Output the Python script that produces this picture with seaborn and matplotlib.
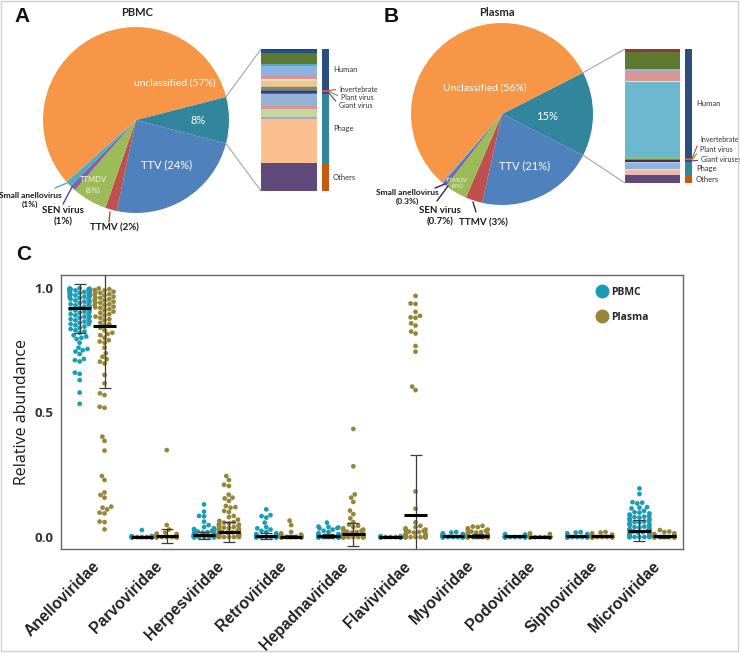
"""
Virome composition figure: pies + stacked bars (A, B) and swarm (C).
"""
import warnings
import numpy as np
import pandas as pd
import matplotlib
matplotlib.use("Agg")
import matplotlib.pyplot as plt
import matplotlib.transforms as mtrans
import seaborn as sns
from matplotlib.lines import Line2D
from matplotlib.patches import ConnectionPatch, Rectangle

warnings.filterwarnings("ignore")

# ---------------- panel A / B : pies ----------------
pie_names = ["teal", "TTV", "TTMV", "TTMDV", "SEN virus", "Small anellovirus", "unclassified"]
pie_pbmc = [8, 24, 2, 6, 1, 1, 57]
pie_plasma = [15, 21, 3, 4, 0.7, 0.3, 56]
pie_colors = ["#31859c", "#4f81bd", "#c0504d", "#9bbb59", "#8064a2", "#4bacc6", "#f79646"]

# stacked detail bars (share of the teal slice, top to bottom)
detail_pbmc = [1.4, 0.9, 0.7, 7.5, 1.4, 6.3, 2.8, 1.2, 3.5, 0.9,
               2.1, 0.7, 1.2, 0.9, 7.7, 3.1, 5.6, 1.2, 31.2, 19.5]
detail_pbmc_colors = ["#1f497d", "#953735", "#1f497d", "#5e7a30", "#4bacc6",
                      "#8db3e2", "#da9694", "#d7e4bd", "#fac090", "#c4bd97",
                      "#77933c", "#8064a2", "#1f497d", "#31859c", "#95b3d7",
                      "#da9694", "#c3d69b", "#b3a2c7", "#fac090", "#604a7b"]
detail_plasma = [2.0, 13.2, 1.2, 7.2, 0.7, 56.3, 1.2, 1.0, 1.0, 1.2,
                 4.2, 1.2, 1.2, 2.2, 6.0]
detail_plasma_colors = ["#953735", "#5e7a30", "#8db3e2", "#da9694", "#f2dcdb",
                        "#6cb8cf", "#9bbb59", "#77933c", "#403152", "#b9cde5",
                        "#8db3e2", "#fcd5b5", "#fac090", "#e6b9b8", "#604a7b"]

group_labels_pbmc = ["Human", "Invertebrate", "Plant virus", "Giant virus", "Phage", "Others"]
group_labels_plasma = ["Human", "Invertebrate", "Plant virus", "Giant viruses", "Phage", "Others"]
group_pbmc = [28.9, 0.7, 0.7, 1.4, 48.8, 19.5]
group_plasma = [81.4, 0.7, 0.7, 1.5, 10.2, 5.5]
group_colors = ["#2a4f7f", "#c0504d", "#77933c", "#5f3a7a", "#31859c", "#c55a11"]

# ---------------- panel C : relative abundance ----------------
families = ["Anelloviridae", "Parvoviridae", "Herpesviridae", "Retroviridae",
            "Hepadnaviridae", "Flaviviridae", "Myoviridae", "Podoviridae",
            "Siphoviridae", "Microviridae"]
sources = ["PBMC", "Plasma"]

anello_pbmc = [0.535, 0.58, 0.63, 0.655, 0.66, 0.705, 0.71, 0.715, 0.735, 0.745,
               0.75, 0.755, 0.76, 0.78, 0.795, 0.80, 0.805, 0.81, 0.82, 0.825,
               0.83, 0.835, 0.84, 0.845, 0.85, 0.855, 0.86, 0.865, 0.87, 0.875,
               0.88, 0.885, 0.89, 0.895, 0.90, 0.905, 0.91, 0.915, 0.92, 0.925,
               0.93, 0.935, 0.94, 0.945, 0.95, 0.955, 0.96, 0.962, 0.965, 0.968,
               0.97, 0.972, 0.975, 0.978, 0.98, 0.982, 0.984, 0.986, 0.988, 0.99,
               0.991, 0.992, 0.993, 0.994, 0.995, 0.996, 0.997, 0.998, 0.999, 0.99,
               0.985, 0.975, 0.965, 0.955, 0.945, 0.935, 0.925, 0.915, 0.905, 0.895,
               0.885, 0.875, 0.865, 0.855]
anello_plasma = [0.031, 0.06, 0.062, 0.095, 0.098, 0.111, 0.118, 0.122, 0.158, 0.169,
                 0.179, 0.229, 0.245, 0.347, 0.386, 0.403, 0.519, 0.523, 0.57, 0.577,
                 0.617, 0.651, 0.697, 0.704, 0.714, 0.724, 0.738, 0.76, 0.78, 0.785,
                 0.79, 0.80, 0.81, 0.815, 0.82, 0.83, 0.84, 0.85, 0.855, 0.86,
                 0.87, 0.875, 0.88, 0.89, 0.895, 0.90, 0.91, 0.915, 0.92, 0.925,
                 0.93, 0.935, 0.94, 0.945, 0.95, 0.955, 0.96, 0.965, 0.97, 0.975,
                 0.98, 0.985, 0.99, 0.995, 0.998, 0.992, 0.982, 0.972, 0.962, 0.952,
                 0.942, 0.932, 0.922, 0.905, 0.885]
parvo_pbmc = [0.028, 0.004, 0.003, 0.003, 0.002, 0.002, 0.002, 0.001, 0.001, 0.001,
              0.001, 0.001, 0.001, 0.001, 0, 0, 0, 0, 0, 0,
              0, 0, 0, 0, 0, 0, 0, 0, 0, 0,
              0, 0, 0, 0, 0, 0, 0, 0, 0, 0]
parvo_plasma = [0.349, 0.048, 0.03, 0.018, 0.014, 0.012, 0.01, 0.008, 0.006, 0.005,
                0.004, 0.003, 0.003, 0.002, 0.002, 0.001, 0.001, 0.001, 0, 0,
                0, 0, 0, 0, 0, 0, 0, 0, 0, 0,
                0, 0, 0, 0, 0, 0, 0, 0, 0, 0]
herpes_pbmc = [0.131, 0.102, 0.085, 0.083, 0.062, 0.048, 0.04, 0.035, 0.032, 0.03,
               0.028, 0.025, 0.022, 0.02, 0.018, 0.016, 0.015, 0.013, 0.012, 0.01,
               0.01, 0.009, 0.008, 0.007, 0.006, 0.005, 0.005, 0.004, 0.004, 0.003,
               0.003, 0.002, 0.002, 0.001, 0.001, 0, 0, 0, 0, 0,
               0, 0, 0, 0, 0, 0, 0, 0]
herpes_plasma = [0.245, 0.229, 0.21, 0.205, 0.17, 0.158, 0.155, 0.145, 0.125, 0.12,
                 0.118, 0.105, 0.1, 0.085, 0.08, 0.07, 0.065, 0.06, 0.058, 0.055,
                 0.052, 0.05, 0.048, 0.045, 0.043, 0.04, 0.038, 0.036, 0.034, 0.032,
                 0.03, 0.028, 0.026, 0.025, 0.023, 0.022, 0.02, 0.019, 0.018, 0.016,
                 0.015, 0.014, 0.013, 0.012, 0.011, 0.01, 0.009, 0.008, 0.007, 0.006,
                 0.005, 0.004, 0.003, 0.002, 0.001, 0, 0, 0, 0, 0]
retro_pbmc = [0.111, 0.088, 0.084, 0.078, 0.058, 0.04, 0.035, 0.03, 0.025, 0.02,
              0.015, 0.012, 0.01, 0.008, 0.006, 0.005, 0.004, 0.003, 0.002, 0.002,
              0.001, 0.001, 0, 0, 0, 0, 0, 0, 0, 0,
              0, 0, 0, 0, 0, 0, 0, 0, 0, 0]
retro_plasma = [0.066, 0.048, 0.02, 0.015, 0.01, 0.008, 0.005, 0.004, 0.003, 0.002,
                0.001, 0.001, 0, 0, 0, 0, 0, 0, 0, 0,
                0, 0, 0, 0, 0, 0, 0, 0, 0, 0,
                0, 0, 0, 0, 0, 0, 0, 0, 0, 0]
hepad_pbmc = [0.058, 0.042, 0.04, 0.038, 0.036, 0.035, 0.03, 0.025, 0.02, 0.015,
              0.012, 0.01, 0.008, 0.006, 0.005, 0.004, 0.003, 0.002, 0.001, 0.001,
              0, 0, 0, 0, 0, 0, 0, 0, 0, 0,
              0, 0, 0, 0, 0, 0, 0, 0, 0, 0]
hepad_plasma = [0.434, 0.284, 0.171, 0.158, 0.141, 0.106, 0.092, 0.075, 0.06, 0.05,
                0.045, 0.04, 0.035, 0.03, 0.028, 0.025, 0.022, 0.02, 0.018, 0.015,
                0.012, 0.01, 0.008, 0.006, 0.005, 0.004, 0.003, 0.002, 0.001, 0.001,
                0, 0, 0, 0, 0, 0, 0, 0, 0, 0,
                0, 0, 0, 0, 0]
flavi_pbmc = [0.003, 0.002, 0.001, 0.001, 0, 0, 0, 0, 0, 0,
              0, 0, 0, 0, 0, 0, 0, 0, 0, 0,
              0, 0, 0, 0, 0, 0, 0, 0, 0, 0]
flavi_plasma = [0.968, 0.938, 0.936, 0.904, 0.888, 0.882, 0.880, 0.858, 0.849, 0.825,
                0.817, 0.767, 0.744, 0.604, 0.590, 0.183, 0.114, 0.059, 0.045, 0.04,
                0.035, 0.03, 0.028, 0.025, 0.022, 0.02, 0.018, 0.015, 0.012, 0.01,
                0.008, 0.006, 0.005, 0.004, 0.003, 0.002, 0.001, 0, 0, 0,
                0, 0, 0, 0, 0, 0, 0, 0, 0, 0]
myo_pbmc = [0.02, 0.018, 0.015, 0.012, 0.01, 0.01, 0.008, 0.008, 0.007, 0.006,
            0.006, 0.005, 0.005, 0.004, 0.004, 0.003, 0.003, 0.002, 0.002, 0.001,
            0.001, 0, 0, 0, 0, 0, 0, 0, 0, 0,
            0, 0, 0, 0, 0, 0, 0, 0, 0, 0]
myo_plasma = [0.045, 0.042, 0.04, 0.035, 0.03, 0.028, 0.025, 0.022, 0.02, 0.018,
              0.015, 0.012, 0.01, 0.008, 0.006, 0.005, 0.004, 0.003, 0.002, 0.001,
              0, 0, 0, 0, 0, 0, 0, 0, 0, 0,
              0, 0, 0, 0, 0, 0, 0, 0, 0, 0]
podo_pbmc = [0.012, 0.01, 0.008, 0.006, 0.005, 0.004, 0.003, 0.002, 0.001, 0.001,
             0, 0, 0, 0, 0, 0, 0, 0, 0, 0,
             0, 0, 0, 0, 0, 0, 0, 0, 0, 0]
podo_plasma = [0.015, 0.012, 0.01, 0.005, 0.003, 0.002, 0.001, 0, 0, 0,
               0, 0, 0, 0, 0, 0, 0, 0, 0, 0,
               0, 0, 0, 0, 0, 0, 0, 0, 0, 0]
sipho_pbmc = [0.02, 0.018, 0.015, 0.012, 0.01, 0.008, 0.006, 0.005, 0.004, 0.003,
              0.002, 0.001, 0, 0, 0, 0, 0, 0, 0, 0,
              0, 0, 0, 0, 0, 0, 0, 0, 0, 0]
sipho_plasma = [0.02, 0.018, 0.015, 0.01, 0.008, 0.005, 0.003, 0.002, 0.001, 0,
                0, 0, 0, 0, 0, 0, 0, 0, 0, 0,
                0, 0, 0, 0, 0, 0, 0, 0, 0, 0]
micro_pbmc = [0.195, 0.173, 0.14, 0.138, 0.135, 0.12, 0.118, 0.115, 0.105, 0.1,
              0.098, 0.095, 0.09, 0.088, 0.085, 0.082, 0.08, 0.078, 0.075, 0.072,
              0.07, 0.068, 0.065, 0.062, 0.06, 0.058, 0.055, 0.052, 0.05, 0.048,
              0.045, 0.042, 0.04, 0.038, 0.035, 0.032, 0.03, 0.028, 0.025, 0.022,
              0.02, 0.018, 0.015, 0.012, 0.01, 0.008, 0.006, 0.005, 0.004, 0.003,
              0.002, 0.001, 0, 0, 0, 0, 0, 0]
micro_plasma = [0.028, 0.022, 0.02, 0.015, 0.012, 0.01, 0.008, 0.005, 0.003, 0.002,
                0.001, 0, 0, 0, 0, 0, 0, 0, 0, 0,
                0, 0, 0, 0, 0, 0, 0, 0, 0, 0]

pbmc_sets = [anello_pbmc, parvo_pbmc, herpes_pbmc, retro_pbmc, hepad_pbmc,
             flavi_pbmc, myo_pbmc, podo_pbmc, sipho_pbmc, micro_pbmc]
plasma_sets = [anello_plasma, parvo_plasma, herpes_plasma, retro_plasma, hepad_plasma,
               flavi_plasma, myo_plasma, podo_plasma, sipho_plasma, micro_plasma]

# mean and SD as drawn in the figure
pbmc_mean = [0.918, 0.001, 0.007, 0.005, 0.004, 0.0005, 0.005, 0.003, 0.005, 0.026]
pbmc_sd = [0.097, 0.003, 0.015, 0.0125, 0.008, 0.001, 0.005, 0.003, 0.005, 0.042]
plasma_mean = [0.847, 0.003, 0.021, 0.002, 0.011, 0.087, 0.006, 0.002, 0.003, 0.003]
plasma_sd = [0.247, 0.028, 0.041, 0.006, 0.047, 0.244, 0.008, 0.003, 0.004, 0.005]

c_pbmc = "#1a9cb6"
c_plasma = "#978538"

sns.set_style("white")
plt.rcParams["font.family"] = ["Lato", "DejaVu Sans"]

W, H = 740, 653
fig = plt.figure(figsize=(W / 100, H / 100), dpi=100)


def px_axes(x0, y0, x1, y1, **kw):
    return fig.add_axes([x0 / W, 1 - y1 / H, (x1 - x0) / W, (y1 - y0) / H], **kw)


def draw_pie(ax, values, start):
    wedges, _ = ax.pie(values, colors=pie_colors, startangle=start,
                       counterclock=False, radius=1,
                       wedgeprops=dict(linewidth=0))
    ax.set_aspect("auto")
    ax.set_xlim(-1, 1)
    ax.set_ylim(-1, 1)
    ax.axis("off")
    return wedges


def draw_stack(ax, values, colors):
    bottoms = np.concatenate([[0], np.cumsum(values)[:-1]])
    ax.bar(np.zeros(len(values)), values, bottom=bottoms, width=1,
           color=colors, edgecolor="none")
    ax.set_xlim(-0.5, 0.5)
    ax.set_ylim(np.sum(values), 0)
    ax.axis("off")
    return bottoms


def draw_groups(ax, values, labels, small_offsets):
    bottoms = draw_stack(ax, values, group_colors)
    centers = bottoms + np.array(values) / 2
    for i, (lab, cy) in enumerate(zip(labels, centers)):
        if i in (1, 2, 3):
            dx, dy = small_offsets[i - 1]
            ax.annotate(lab, xy=(0.5, cy), xytext=(dx, dy), textcoords="offset pixels",
                        ha="left", va="center", fontsize=5, color="#303030",
                        arrowprops=dict(arrowstyle="-", color=group_colors[i], lw=0.8,
                                        shrinkA=0, shrinkB=0, relpos=(0, 0.5)))
        else:
            ax.annotate(lab, xy=(0.5, cy), xytext=(4, 0), textcoords="offset pixels",
                        ha="left", va="center", fontsize=5.5, color="#303030")


def connect(ax_pie, wedge, ax_bar):
    for theta, yb in [(wedge.theta2, 1), (wedge.theta1, 0)]:
        t = np.deg2rad(theta)
        con = ConnectionPatch(xyA=(np.cos(t), np.sin(t)), coordsA=ax_pie.transData,
                              xyB=(0, yb), coordsB=ax_bar.transAxes,
                              color="#a6a6a6", lw=0.8)
        fig.add_artist(con)


# ---- panel A
axA = px_axes(43, 27, 229, 213)
wA = draw_pie(axA, pie_pbmc, 14.4)
axA.text(0.42, 0.40, "unclassified (57%)", color="white", fontsize=7.5, ha="center", va="center")
axA.text(0.67, 0.0, "8%", color="white", fontsize=8, ha="center", va="center")
axA.text(0.33, -0.48, "TTV (24%)", color="white", fontsize=8, ha="center", va="center")
axA.text(-0.46, -0.70, "TTMDV\n(6%)", color="#f4f4e8", fontsize=5.5, ha="center", va="center",
         linespacing=1.6)
barA = px_axes(261, 49, 317, 191)
draw_stack(barA, detail_pbmc, detail_pbmc_colors)
grpA = px_axes(322, 49, 329, 191)
draw_groups(grpA, group_pbmc, group_labels_pbmc, [(10, 1.5), (12, -5.5), (10, -12)])
connect(axA, wA[0], barA)

# ---- panel B
axB = px_axes(411, 23, 593, 205)
wB = draw_pie(axB, pie_plasma, 27)
axB.text(-0.19, 0.29, "Unclassified (56%)", color="white", fontsize=7.5, ha="center", va="center")
axB.text(0.49, -0.03, "15%", color="white", fontsize=8, ha="center", va="center")
axB.text(0.25, -0.57, "TTV (21%)", color="white", fontsize=8, ha="center", va="center")
axB.text(-0.49, -0.76, "TTMDV\n(4%)", color="#f4f4e8", fontsize=4.5, ha="center", va="center")
barB = px_axes(625, 49, 680, 183)
draw_stack(barB, detail_plasma, detail_plasma_colors)
grpB = px_axes(685, 49, 692, 183)
draw_groups(grpB, group_plasma, group_labels_plasma, [(8, 19.5), (8, 9.5), (9, 1)])
connect(axB, wB[0], barB)

# ---- panel C
dodge = {"PBMC": -0.2, "Plasma": 0.2}
rows = []
for i, (fam, pv, qv) in enumerate(zip(families, pbmc_sets, plasma_sets)):
    rows += [(fam, "PBMC", i + dodge["PBMC"], v) for v in pv]
    rows += [(fam, "Plasma", i + dodge["Plasma"], v) for v in qv]
df = pd.DataFrame(rows, columns=["family", "source", "xpos", "abundance"])
df["xpos"] = df["xpos"].round(3)

axC = px_axes(61, 275, 683, 549)
# native scale on the dodged positions keeps each swarm about +/-0.16 wide
sns.swarmplot(data=df, x="xpos", y="abundance", hue="source", hue_order=sources,
              native_scale=True, orient="x", palette=[c_pbmc, c_plasma],
              size=3.4, linewidth=0, legend=False, ax=axC, zorder=2)

xpos = np.arange(len(families))
for src, m, s in [("PBMC", pbmc_mean, pbmc_sd), ("Plasma", plasma_mean, plasma_sd)]:
    xs = xpos + dodge[src]
    axC.errorbar(xs, m, yerr=s, fmt="none", ecolor="#3c3c3c",
                 elinewidth=0.9, capsize=4.5, capthick=0.9, zorder=4)
    axC.hlines(m, xs - 0.18, xs + 0.18, colors="black", lw=2.2, zorder=5)

axC.set_xlim(-0.5, len(families) - 0.5)
axC.set_ylim(-0.048, 1.052)
axC.set_yticks([0, 0.5, 1.0], ["0.0", "0.5", "1.0"], fontsize=9.5, fontweight="bold",
               family="Open Sans", color="#333333")
axC.set_xticks(xpos, families, rotation=45, ha="right", rotation_mode="anchor",
               fontsize=11.3, fontweight="bold", family="Liberation Sans", color="#222222")
shift = mtrans.ScaledTranslation(-3 / 100, 0, fig.dpi_scale_trans)
for lab in axC.get_xticklabels():
    lab.set_transform(lab.get_transform() + shift)
axC.set_xlabel("")
axC.set_ylabel("Relative abundance", fontsize=11.5, family="Open Sans", color="#1a1a1a",
               labelpad=3)
axC.tick_params(axis="both", length=3.5, width=0.8, color="#666666")
axC.tick_params(axis="y", pad=2)
for sp in axC.spines.values():
    sp.set_color("#666666")
    sp.set_linewidth(1)

handles = [Line2D([], [], ls="none", marker="o", ms=9, color=c) for c in (c_pbmc, c_plasma)]
axC.legend(handles, sources, loc="upper left", bbox_to_anchor=(0.845, 0.99),
           frameon=False, prop=dict(family="Open Sans", weight="bold", size=7.5),
           labelspacing=1.3, handletextpad=0.3, handlelength=1.2)

# ---- overlay for panel letters, titles and pie call-outs
ov = fig.add_axes([0, 0, 1, 1], zorder=10)
ov.set_xlim(0, W)
ov.set_ylim(H, 0)
ov.axis("off")

for letter, x, y in [("A", 22, 16), ("B", 391, 16), ("C", 24, 255)]:
    ov.text(x, y, letter, fontsize=15, fontweight="bold", family="Liberation Sans",
            ha="center", va="center", color="#111111")
ov.text(137, 12, "PBMC", fontsize=8, fontweight="bold", ha="center", va="center")
ov.text(497, 12, "Plasma", fontsize=8, fontweight="bold", ha="center", va="center")

callouts = [
    ("Small anellovirus\n(1%)", 30, 200, 6, [(55, 188), (67, 183)], "#4bacc6"),
    ("SEN virus\n(1%)", 63, 216, 7, [(63, 204), (72, 187)], "#5b3fa0"),
    ("TTMV (2%)", 114, 228, 7, [(109, 222), (110, 212)], "#a0522d"),
    ("Small anellovirus\n(0.3%)", 407, 197, 6, [(435, 188), (445, 184)], "#2e1f7a"),
    ("SEN virus\n(0.7%)", 440, 216, 7, [(437, 201), (448, 186)], "#2e1f7a"),
    ("TTMV (3%)", 483, 223, 7, [(473, 202), (476, 212)], "#2e1f7a"),
]
for txt, x, y, fs, line, col in callouts:
    ov.text(x, y, txt, fontsize=fs, fontweight="bold", ha="center", va="center",
            color="#1a1a1a", linespacing=1.3)
    ov.plot([line[0][0], line[1][0]], [line[0][1], line[1][1]], color=col, lw=1)

fig.add_artist(Rectangle((1 / W, 2 / H), 737 / W, 650 / H, transform=fig.transFigure,
                         fill=False, edgecolor="#d0d0d0", lw=1))

fig.savefig("out.png", dpi=100)
